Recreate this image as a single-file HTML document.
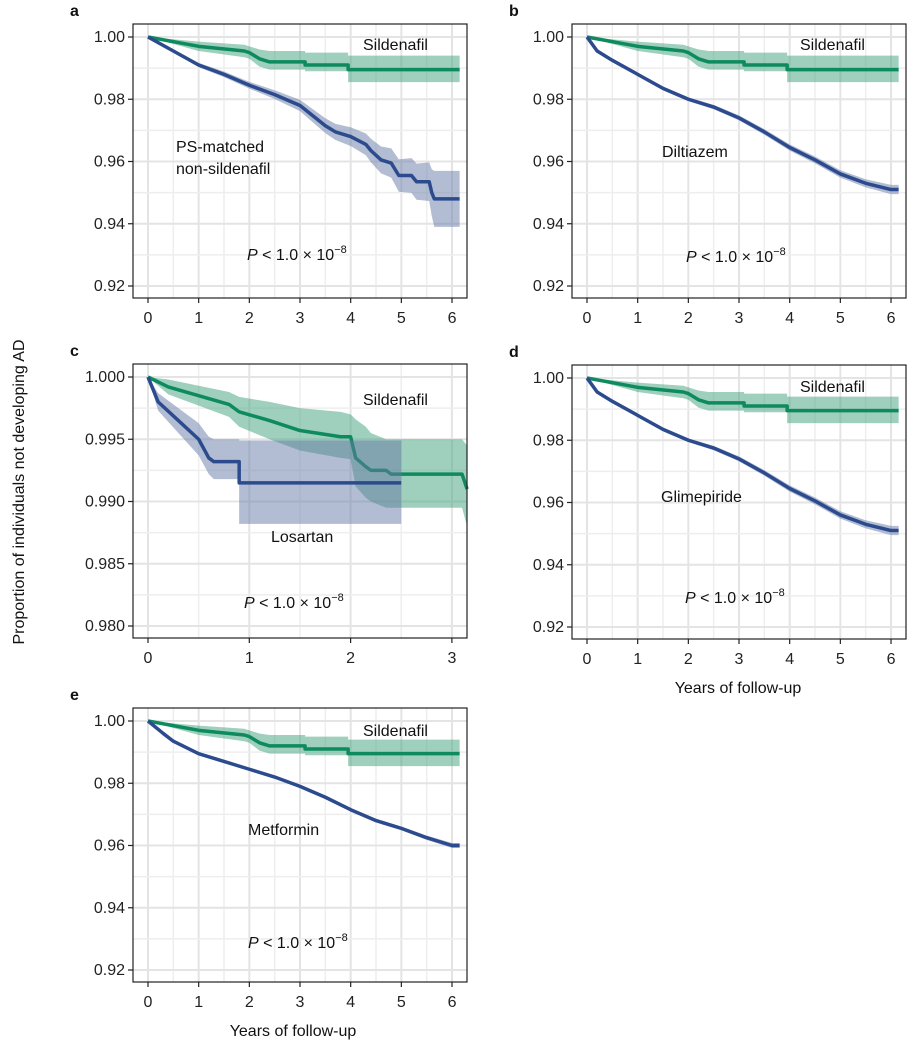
<!DOCTYPE html>
<html><head><meta charset="utf-8"><style>
body{margin:0;background:#fff;}
svg{display:block;font-family:"Liberation Sans",sans-serif;}
</style></head><body>
<svg id="fig" width="916" height="1049"></svg>
<script>
// ---- data (time, survival; repeated times = vertical steps) ----
const silT=[0,1,1.9,2.0,2.2,2.4,3.1,3.1,3.95,3.95,6.15];
const silS=[1,0.997,0.9955,0.995,0.993,0.992,0.992,0.991,0.991,0.9895,0.9895];
const silU=[1,0.9985,0.9975,0.997,0.996,0.9955,0.9955,0.995,0.995,0.994,0.994];
const silL=[1,0.9955,0.9935,0.993,0.9905,0.9895,0.9895,0.989,0.989,0.9855,0.9855];

const ctlT_a=[0,0.5,1,1.5,2,2.5,3,3.5,3.7,4,4.3,4.4,4.6,4.8,4.95,5.2,5.3,5.55,5.6,5.65,6.15];
const ctlS_a=[1,0.9955,0.991,0.988,0.9845,0.9815,0.978,0.9715,0.9695,0.968,0.9655,0.9635,0.9605,0.9595,0.9555,0.9555,0.9535,0.9535,0.95,0.948,0.948];
const ctlW_a=[0,0.0005,0.0007,0.0009,0.0011,0.0014,0.0018,0.0024,0.0026,0.003,0.0035,0.0038,0.0043,0.0047,0.0052,0.0056,0.0058,0.0062,0.0075,0.009,0.009];

const ctlT_b=[0,0.2,0.5,1,1.5,2,2.5,3,3.5,4,4.5,5,5.5,6,6.15];
const ctlS_b=[1,0.9955,0.9925,0.988,0.9835,0.98,0.9775,0.974,0.9695,0.9645,0.9605,0.956,0.953,0.951,0.951];
const ctlW_b=[0,0.0003,0.0004,0.0005,0.0006,0.0006,0.0007,0.0008,0.0009,0.001,0.0011,0.0012,0.0013,0.0015,0.0015];

const silT_c=[0,0.2,0.5,0.8,0.9,1.2,1.5,1.9,2.0,2.05,2.15,2.2,2.35,2.4,3.1,3.15];
const silS_c=[1,0.9992,0.9985,0.9978,0.9972,0.9965,0.9957,0.9952,0.9952,0.9935,0.9928,0.9925,0.9925,0.9922,0.9922,0.991];
const silU_c=[1,0.9998,0.9993,0.9988,0.9984,0.998,0.9975,0.9972,0.997,0.9966,0.996,0.9955,0.995,0.995,0.995,0.9945];
const silL_c=[1,0.9986,0.9977,0.9968,0.996,0.995,0.9941,0.9935,0.9934,0.9912,0.9903,0.99,0.9895,0.9895,0.9895,0.988];
const ctlT_c=[0,0.1,0.3,0.5,0.6,0.65,0.9,0.9,2.5];
const ctlS_c=[1,0.998,0.9965,0.995,0.9935,0.9932,0.9932,0.9915,0.9915];
const ctlU_c=[1,0.9987,0.9975,0.9963,0.9952,0.995,0.995,0.9949,0.9949];
const ctlL_c=[1,0.9973,0.9955,0.9937,0.9922,0.9918,0.9918,0.9882,0.9882];

const ctlT_d=[0,0.2,0.5,1,1.5,2,2.5,3,3.5,4,4.5,5,5.5,6,6.15];
const ctlS_d=[1,0.9955,0.9925,0.988,0.9835,0.98,0.9775,0.974,0.9695,0.9645,0.9605,0.956,0.953,0.951,0.951];
const ctlW_d=[0,0.0003,0.0004,0.0005,0.0006,0.0006,0.0007,0.0008,0.0009,0.001,0.0011,0.0012,0.0013,0.0015,0.0015];

const ctlT_e=[0,0.3,0.5,1,1.5,2,2.5,3,3.5,4,4.5,5,5.5,6,6.15];
const ctlS_e=[1,0.996,0.9935,0.9895,0.987,0.9845,0.982,0.979,0.9755,0.9715,0.968,0.9655,0.9625,0.96,0.96];
const ctlW_e=[0,0.0002,0.0003,0.0003,0.0004,0.0004,0.0004,0.0005,0.0005,0.0005,0.0006,0.0006,0.0007,0.0008,0.0008];

const yTicks5=[0.92,0.94,0.96,0.98,1.00];
const yTicksC=[0.980,0.985,0.990,0.995,1.000];
const xTicks6=[0,1,2,3,4,5,6];
const xTicks3=[0,1,2,3];

const NS="http://www.w3.org/2000/svg";
const svg=document.getElementById('fig');
function mk(tag,attrs,parent){const e=document.createElementNS(NS,tag);for(const k in attrs)e.setAttribute(k,attrs[k]);(parent||svg).appendChild(e);return e;}
function up(S,W){return S.map((s,i)=>Math.min(1,s+W[i]));}
function lo(S,W){return S.map((s,i)=>s-W[i]);}

function panel(o){
  const g=mk('g',{});
  
  
  const x=v=>o.x0+(v-o.xmin)*o.kx;
  const y=v=>o.y0+(o.ymax-v)*o.ky;
  const gg=mk('g',{},g);
  
  
  for(let i=0;i<o.xt.length;i++){
    const v=o.xt[i];
    mk('line',{x1:x(v),x2:x(v),y1:o.bt,y2:o.bb,stroke:'#e4e4e4','stroke-width':2},gg);
    const m=v+o.xs/2; if(x(m)<o.br) mk('line',{x1:x(m),x2:x(m),y1:o.bt,y2:o.bb,stroke:'#eeeeee','stroke-width':1.5},gg);
  }
  for(let i=0;i<o.yt.length;i++){
    const v=o.yt[i];
    mk('line',{x1:o.bl,x2:o.br,y1:y(v),y2:y(v),stroke:'#e4e4e4','stroke-width':2},gg);
    const m=v+o.ys/2; if(y(m)>o.bt) mk('line',{x1:o.bl,x2:o.br,y1:y(m),y2:y(m),stroke:'#eeeeee','stroke-width':1.5},gg);
  }
  const pts=(T,S)=>T.map((t,i)=>[x(t),y(S[i])]);
  function drawSeries(T,S,U,L,line,fill,name){
    const a=pts(T,U),b=pts(T,L).reverse();
    const poly=mk('polygon',{points:a.concat(b).map(p=>p.join(',')).join(' '),fill:fill,'fill-opacity':0.5},g);
    
    
    const pl=mk('polyline',{points:pts(T,S).map(p=>p.join(',')).join(' '),fill:'none',stroke:line,'stroke-width':3.5,'stroke-linejoin':'round'},g);
    
    
  }
  drawSeries(o.sT,o.sS,o.sU,o.sL,'#0e8a5f','#3f9f7c','sildenafil');
  drawSeries(o.cT,o.cS,o.cU,o.cL,'#2c4b8e','#6679a6',o.cname);
  const fr=mk('rect',{x:o.bl,y:o.bt,width:o.br-o.bl,height:o.bb-o.bt,fill:'none',stroke:'#222','stroke-width':1.2},g);
  
  
  for(let i=0;i<o.xt.length;i++){
    const v=o.xt[i];
    mk('line',{x1:x(v),x2:x(v),y1:o.bb,y2:o.bb+5,stroke:'#222','stroke-width':1.2},g);
    const t=mk('text',{x:x(v),y:o.bb+25,'text-anchor':'middle','font-size':16,fill:'#222'},g);
    t.textContent=String(v);
    
    
  }
  for(let i=0;i<o.yt.length;i++){
    const v=o.yt[i];
    mk('line',{x1:o.bl-5,x2:o.bl,y1:y(v),y2:y(v),stroke:'#222','stroke-width':1.2},g);
    const t=mk('text',{x:o.bl-8,y:y(v)+5,'text-anchor':'end','font-size':16,fill:'#222'},g);
    t.textContent=v.toFixed(o.dec);
    
    
  }
  const lab=mk('text',{x:o.bl-63,y:o.bt-8,'font-size':16,'font-weight':'bold',fill:'#111'},g);
  lab.textContent=o.id;
  
  
  const sl=mk('text',{x:o.silX,y:o.silY,'font-size':16,fill:'#111'},g);
  sl.textContent='Sildenafil';
  
  
  o.clab.forEach((s,i)=>{
    const t=mk('text',{x:o.cX,y:o.cY+i*22,'font-size':16,fill:'#111'},g);
    t.textContent=s;
    
    
  });
  const p=mk('text',{x:o.pX,y:o.pY,'font-size':16,fill:'#111'},g);
  
  
  p.innerHTML='<tspan font-style="italic">P</tspan> &lt; 1.0 × 10<tspan dy="-7" font-size="11">−8</tspan>';
}

function mkPanel(id,dx,dy,cT,cS,cU,cL,cname,clab,cX,cY,silX,silY,pX,pY,scaleC){
  const base={id:id,bl:133+dx,br:467+dx,bt:24+dy,bb:298+dy,x0:148+dx,xmin:0,kx:50.67,xt:xTicks6,xs:1,
    y0:37+dy,ymax:1.0,ky:62.25/0.02,yt:yTicks5,ys:0.02,dec:2,
    sT:silT,sS:silS,sU:silU,sL:silL,cT:cT,cS:cS,cU:cU,cL:cL,cname:cname,clab:clab,
    cX:cX+dx,cY:cY+dy,silX:silX,silY:silY,pX:pX,pY:pY};
  if(scaleC){Object.assign(base,{bt:364,bb:638,y0:377,ky:(626-377)/0.02,yt:yTicksC,ys:0.005,dec:3,kx:101.3,xt:xTicks3,
    sT:silT_c,sS:silS_c,sU:silU_c,sL:silL_c});}
  panel(base);
}

mkPanel('a',0,0,ctlT_a,ctlS_a,up(ctlS_a,ctlW_a),lo(ctlS_a,ctlW_a),'ps-matched',['PS-matched','non-sildenafil'],176,152,363,50,247,260);
mkPanel('b',439,0,ctlT_b,ctlS_b,up(ctlS_b,ctlW_b),lo(ctlS_b,ctlW_b),'diltiazem',['Diltiazem'],662-439,157,800,50,686,262);
mkPanel('c',0,0,ctlT_c,ctlS_c,ctlU_c,ctlL_c,'losartan',['Losartan'],271,542,363,405,244,608,true);
mkPanel('d',439,341,ctlT_d,ctlS_d,up(ctlS_d,ctlW_d),lo(ctlS_d,ctlW_d),'glimepiride',['Glimepiride'],661-439,502-341,800,392,685,603);
mkPanel('e',0,684,ctlT_e,ctlS_e,up(ctlS_e,ctlW_e),lo(ctlS_e,ctlW_e),'metformin',['Metformin'],248,835-684,363,736,248,948);

function txt(s,a,name){const t=mk('text',a);t.textContent=s;return t;}
txt('Proportion of individuals not developing AD',{x:24,y:492,'font-size':16,fill:'#111','text-anchor':'middle',transform:'rotate(-90 24 492)'},'y-axis-title');
txt('Years of follow-up',{x:738,y:693,'font-size':16,fill:'#111','text-anchor':'middle'},'x-axis-title-d');
txt('Years of follow-up',{x:293,y:1036,'font-size':16,fill:'#111','text-anchor':'middle'},'x-axis-title-e');
</script>
</body></html>
